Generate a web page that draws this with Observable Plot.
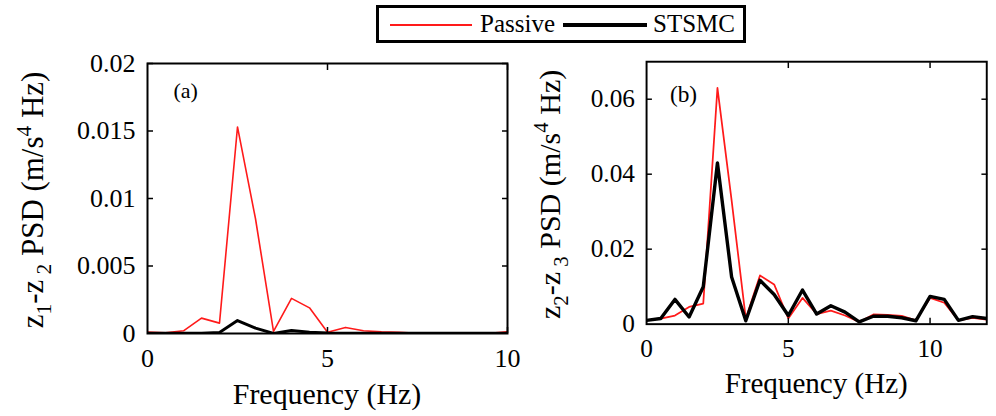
<!DOCTYPE html>
<html><head><meta charset="utf-8">
<script src="https://cdn.jsdelivr.net/npm/d3@7"></script>
<script src="https://cdn.jsdelivr.net/npm/@observablehq/plot@0.6"></script>
<style>
body{margin:0;background:#fff;overflow:hidden;}
#wrap{position:relative;width:996px;height:416px;overflow:hidden;color:#000;}
#pa{position:absolute;left:0;top:0;}
#pb{position:absolute;left:510px;top:0;}
#legend{position:absolute;left:376px;top:5px;width:364px;height:32px;border:3px solid #000;background:#fff;}
#legend .sw{position:absolute;top:16px;}
#legend .lb{position:absolute;top:0;font-size:25px;line-height:32px;}
</style>
</head><body>
<div id="wrap">
  <div id="pa"></div>
  <div id="pb"></div>
  <div id="legend">
    <div class="sw" style="left:11px;width:82px;border-top:2px solid #ff1a1a;"></div>
    <div class="lb" style="left:101px;font-family:'Liberation Serif';">Passive</div>
    <div class="sw" style="left:184px;width:84px;top:15px;border-top:4px solid #000;"></div>
    <div class="lb" style="left:274px;font-family:'Liberation Serif';">STSMC</div>
  </div>
</div>
<script>
// Panel (a): z1-z2 PSD
const freqA = [0,0.5,1,1.5,2,2.5,3,3.5,4,4.5,5,5.5,6,6.5,7,7.5,8,8.5,9,9.5,10];
const passiveA = [0.0001,0.00005,0.0002,0.00114,0.00077,0.0153,0.0085,0.00015,0.0026,0.0019,0.0001,0.00045,0.0002,0.00012,0.00008,0.00002,0.00003,0.00005,0.00003,0.00002,0.00012];
const stsmcA = [0.00002,0.00001,0.00001,0.00002,0.00008,0.00096,0.0004,0.00001,0.00022,0.0001,0.00003,0.00002,0.00001,0.00001,0.00001,0.00001,0.00001,0.00001,0.00001,0.00001,0.00001];
const yTicksA = [0,0.005,0.01,0.015,0.02];
const xTicksA = [0,5,10];

// Panel (b): z2-z3 PSD
const freqB = [0,0.5,1,1.5,2,2.5,3,3.5,4,4.5,5,5.5,6,6.5,7,7.5,8,8.5,9,9.5,10,10.5,11,11.5,12];
const passiveB = [0.001,0.0015,0.0023,0.0046,0.0055,0.063,0.033,0.0015,0.013,0.0106,0.0015,0.007,0.0027,0.0036,0.0023,0.0006,0.0026,0.0025,0.0022,0.001,0.007,0.0057,0.001,0.0017,0.0012];
const stsmcB = [0.001,0.0015,0.0066,0.0019,0.010,0.043,0.0126,0.0009,0.0117,0.0079,0.0023,0.0091,0.0027,0.0049,0.0032,0.0006,0.0021,0.0021,0.0017,0.0009,0.0074,0.0066,0.001,0.002,0.0015];
const yTicksB = [0,0.02,0.04,0.06];
const xTicksB = [0,5,10];

const seriesNames = ["Passive","STSMC"];
const tags = ["(a)","(b)"];
const xLabel = "Frequency (Hz)";
const FONT = "Liberation Serif";

function panel({freq, passive, stsmc, xDomain, yDomain, xTicks, yTicks, width, marginLeft, marginRight, tag, tagDx, tagDy, tagSize, redW, blackW, labelX, sub1, sub2}) {
  const pData = freq.map((f,i)=>({f, v: passive[i], s: seriesNames[0]}));
  const sData = freq.map((f,i)=>({f, v: stsmc[i], s: seriesNames[1]}));
  const xIn = xTicks.slice(1);
  const yIn = yTicks.slice(1);
  const svg = Plot.plot({
    width, height: 416,
    marginTop: 63, marginBottom: 83, marginLeft, marginRight,
    x: {domain: xDomain},
    y: {domain: yDomain},
    style: {fontFamily: FONT, fontSize: "26px", color: "#000", background: "transparent", overflow: "visible"},
    marks: [
      Plot.lineY(pData, {x: "f", y: "v", stroke: "#ff1a1a", strokeWidth: redW, clip: true}),
      Plot.lineY(sData, {x: "f", y: "v", stroke: "#000", strokeWidth: blackW, clip: true}),
      Plot.frame({stroke: "#000", strokeWidth: 2}),
      Plot.axisX(xTicks, {anchor: "bottom", tickSize: 0, tickPadding: 15, label: null, tickFormat: d => String(d)}),
      Plot.axisY(yTicks, {anchor: "left", tickSize: 0, tickPadding: 12, label: null, tickFormat: d => String(d)}),
      Plot.axisX(xIn, {anchor: "bottom", tickSize: -6, fill: "none", label: null, strokeWidth: 1.5}),
      Plot.axisX(xIn, {anchor: "top", tickSize: -6, fill: "none", label: null, strokeWidth: 1.5}),
      Plot.axisY(yIn, {anchor: "left", tickSize: -6, fill: "none", label: null, strokeWidth: 1.5}),
      Plot.axisY(yIn, {anchor: "right", tickSize: -6, fill: "none", label: null, strokeWidth: 1.5}),
      Plot.text([tag], {text: d => d, frameAnchor: "top-left", dx: tagDx, dy: tagDy, fontSize: tagSize, textAnchor: "start", lineAnchor: "middle", fill: "#000"})
    ]
  });
  const g = d3.select(svg);
  const xs = svg.scale("x");
  const cx = (xs.apply(xDomain[0]) + xs.apply(xDomain[1])) / 2;
  // Liberation Serif is only available up to 26px here, so larger labels are scaled
  g.append("text")
    .attr("transform", `translate(${cx},404) scale(1.15)`)
    .attr("text-anchor", "middle")
    .style("font-size", "26px").attr("fill", "#000")
    .text(xLabel);
  const t = g.append("text")
    .attr("transform", `translate(${labelX},200) rotate(-90) scale(1.19)`)
    .attr("text-anchor", "middle")
    .style("font-size", "26px").attr("fill", "#000");
  t.append("tspan").text("z");
  t.append("tspan").attr("dy", 7).style("font-size", "18px").text(sub1);
  t.append("tspan").attr("dy", -7).text("-z");
  t.append("tspan").attr("dy", 7).style("font-size", "18px").text(" " + sub2);
  t.append("tspan").attr("dy", -7).text(" PSD (m/s");
  t.append("tspan").attr("dy", -10).style("font-size", "18px").text("4");
  t.append("tspan").attr("dy", 10).text(" Hz)");
  g.selectAll("text, tspan").style("font-family", FONT);
  return svg;
}

document.getElementById("pa").appendChild(panel({
  freq: freqA, passive: passiveA, stsmc: stsmcA,
  xDomain: [0,10], yDomain: [0,0.02], xTicks: xTicksA, yTicks: yTicksA,
  width: 520, marginLeft: 147, marginRight: 13,
  tag: tags[0], tagDx: 26, tagDy: 27, tagSize: 22, redW: 1.6, blackW: 3,
  labelX: 43, sub1: "1", sub2: "2"
}));
document.getElementById("pb").appendChild(panel({
  freq: freqB, passive: passiveB, stsmc: stsmcB,
  xDomain: [0,12], yDomain: [0,0.07], xTicks: xTicksB, yTicks: yTicksB,
  width: 500, marginLeft: 140, marginRight: 10,
  tag: tags[1], tagDx: 24, tagDy: 34, tagSize: 24, redW: 1.8, blackW: 3.5,
  labelX: 51, sub1: "2", sub2: "3"
}));
</script>
</body></html>
